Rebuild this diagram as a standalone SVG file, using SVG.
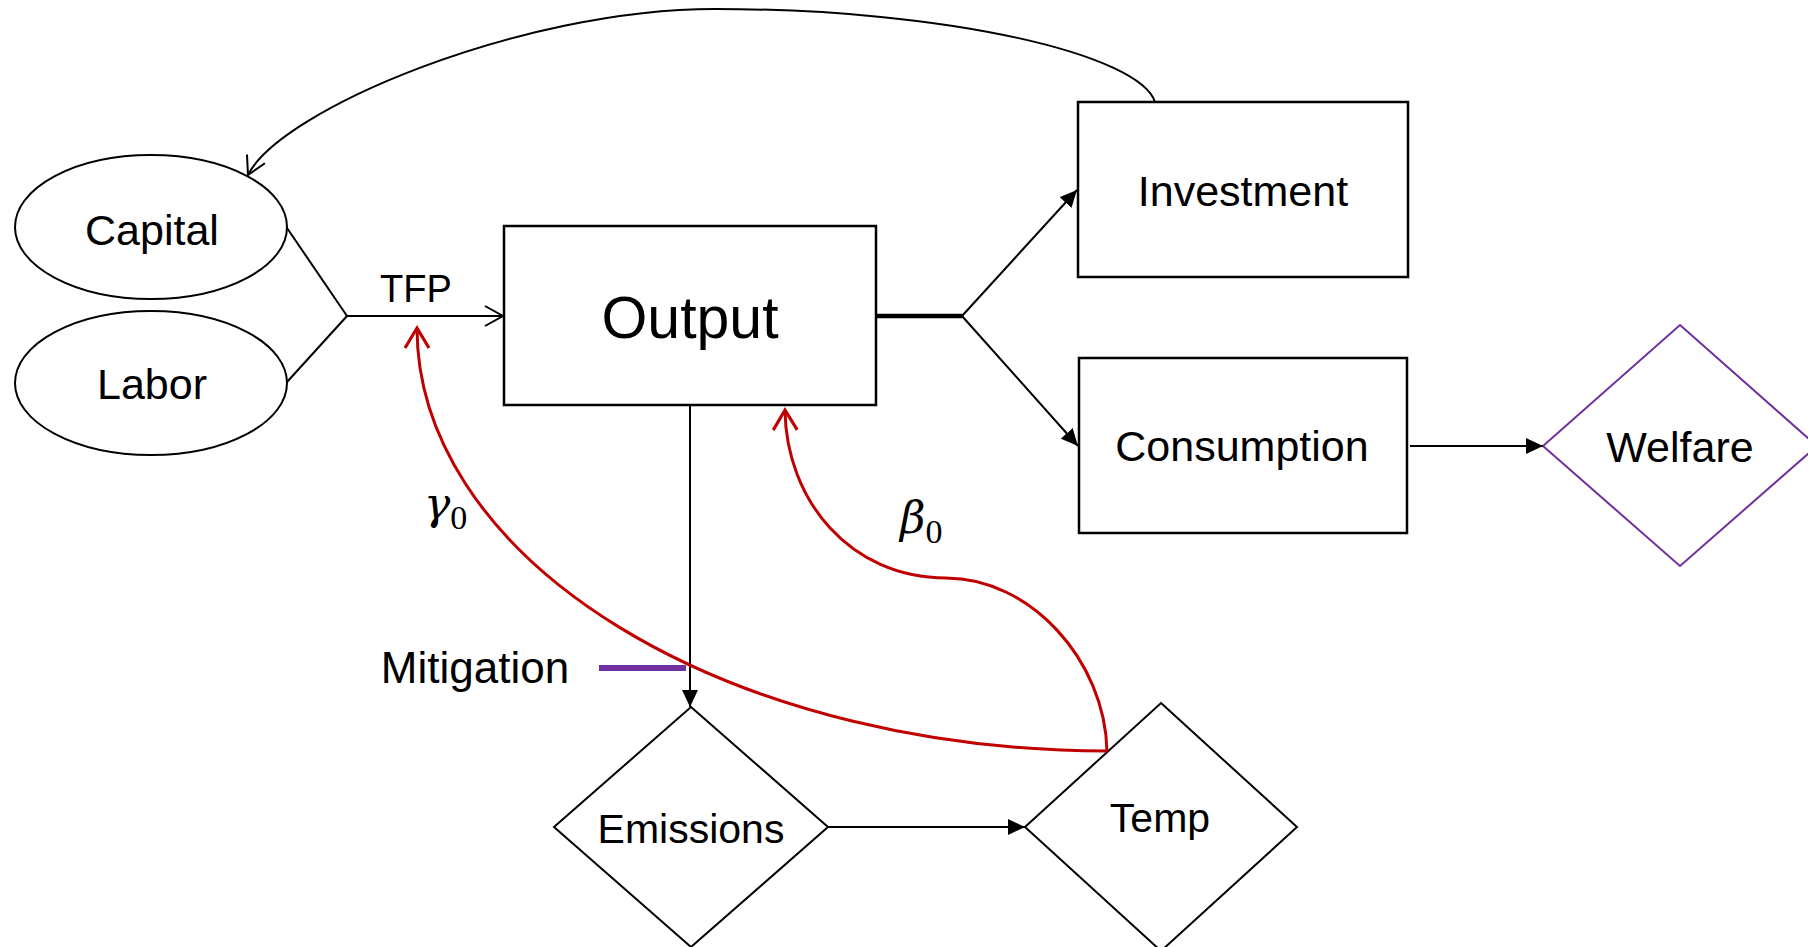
<svg xmlns="http://www.w3.org/2000/svg" width="1808" height="947" viewBox="0 0 1808 947">
<style>
.box{fill:#fff;stroke:#000;stroke-width:2.5}
.dia{fill:#fff;stroke:#000;stroke-width:2}
.ell{fill:#fff;stroke:#000;stroke-width:2}
.lbl{font-family:"Liberation Sans",Arial,sans-serif;font-size:43px;fill:#000;text-anchor:middle}
.ln{fill:none;stroke:#000;stroke-width:2}
.red{fill:none;stroke:#C00000;stroke-width:3}
.greek{font-family:"DejaVu Serif","Liberation Serif",serif;font-style:italic;font-size:44px;fill:#000}
.sub{font-family:"Liberation Serif",serif;font-style:normal;font-size:34px}
</style>
<defs>
<marker id="fill" markerUnits="userSpaceOnUse" markerWidth="18" markerHeight="16" refX="17" refY="8" orient="auto">
<path d="M0,0 L17,8 L0,16 z" fill="#000"/>
</marker>
<marker id="openK" markerUnits="userSpaceOnUse" markerWidth="22" markerHeight="24" refX="19" refY="11" orient="auto" overflow="visible">
<path d="M1,1 L19,11 L1,21" fill="none" stroke="#000" stroke-width="2"/>
</marker>
<marker id="openR" markerUnits="userSpaceOnUse" markerWidth="26" markerHeight="28" refX="21" refY="12" orient="auto" overflow="visible">
<path d="M1,0 L21,12 L1,24" fill="none" stroke="#C00000" stroke-width="3.2"/>
</marker>
</defs>

<g id="capital">
<ellipse class="ell" cx="151" cy="227" rx="136" ry="72"/>
<text class="lbl" x="152" y="245" font-size="42">Capital</text>
</g>
<g id="labor">
<ellipse class="ell" cx="151" cy="383" rx="136" ry="72"/>
<text class="lbl" x="152" y="399" font-size="42">Labor</text>
</g>
<g id="output">
<rect class="box" x="504" y="226" width="372" height="179"/>
<text class="lbl" x="690" y="338" style="font-size:59px">Output</text>
</g>
<g id="investment">
<rect class="box" x="1078" y="102" width="330" height="175"/>
<text class="lbl" x="1243" y="206">Investment</text>
</g>
<g id="consumption">
<rect class="box" x="1079" y="358" width="328" height="175"/>
<text class="lbl" x="1242" y="461">Consumption</text>
</g>
<g id="welfare">
<polygon points="1680,325 1817,446 1680,566 1543,446" fill="#fff" stroke="#7030A0" stroke-width="2"/>
<text class="lbl" x="1680" y="462">Welfare</text>
</g>
<g id="emissions">
<polygon class="dia" points="691,707 828,827 691,947 554,827"/>
<text class="lbl" x="691" y="843" style="font-size:41px">Emissions</text>
</g>
<g id="temp">
<polygon class="dia" points="1161,703 1297,827 1161,951 1025,827"/>
<text class="lbl" x="1160" y="832" style="font-size:41px">Temp</text>
</g>
<g id="mitigation">
<text class="lbl" x="475" y="683" style="font-size:44px">Mitigation</text>
<line x1="599" y1="668" x2="686" y2="668" stroke="#7030A0" stroke-width="6"/>
</g>
<g id="tfp-label">
<text class="lbl" x="416" y="302" style="font-size:38px">TFP</text>
</g>
<g id="gamma-label">
<text class="greek" x="424" y="519">γ<tspan class="sub" dy="10">0</tspan></text>
</g>
<g id="beta-label">
<text class="greek" x="900" y="533">β<tspan class="sub" dy="10">0</tspan></text>
</g>

<g id="connectors">
<line class="ln" x1="287" y1="228" x2="347" y2="316"/>
<line class="ln" x1="287" y1="382" x2="347" y2="316"/>
<line class="ln" x1="347" y1="316" x2="503" y2="316" marker-end="url(#openK)"/>
<line x1="876" y1="316" x2="962" y2="316" stroke="#000" stroke-width="4.5"/>
<line class="ln" x1="962" y1="316" x2="1077" y2="190" marker-end="url(#fill)"/>
<line class="ln" x1="962" y1="316" x2="1078" y2="446" marker-end="url(#fill)"/>
<line class="ln" x1="690" y1="405" x2="690" y2="707" marker-end="url(#fill)"/>
<line class="ln" x1="828" y1="827" x2="1025" y2="827" marker-end="url(#fill)"/>
<line class="ln" x1="1410" y1="446" x2="1543" y2="446" marker-end="url(#fill)"/>
<path class="ln" d="M1155,102 C1140,55 950,9 715,9 C520,9 280,110 248,175" marker-end="url(#openK)"/>
<path class="red" d="M1107,751 A690,423 0 0 1 417,328" marker-end="url(#openR)"/>
<path class="red" d="M1107,751 C1105,660 1030,578 946,578 C850,578 786,500 785,410" marker-end="url(#openR)"/>
</g>
</svg>
